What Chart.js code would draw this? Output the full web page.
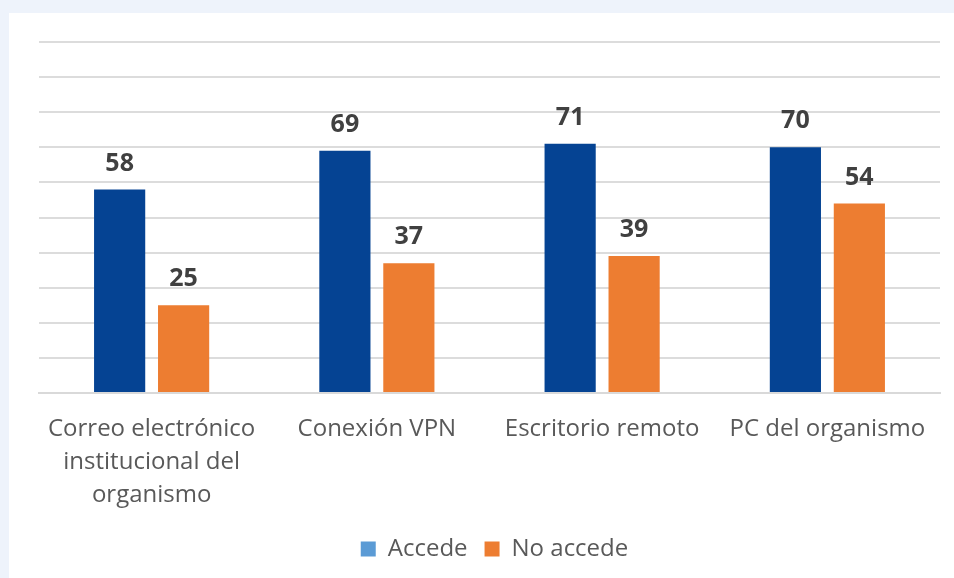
<!DOCTYPE html>
<html>
<head>
<meta charset="utf-8">
<script src="https://cdn.jsdelivr.net/npm/chart.js@4/dist/chart.umd.min.js"></script>
<style>
  html, body { margin: 0; padding: 0; width: 954px; height: 578px; overflow: hidden; background: #eef3fb; }
  #panel { position: absolute; left: 9px; top: 13px; width: 945px; height: 565px; background: #ffffff; }
  #wrap { position: absolute; left: 0; top: 0; width: 954px; height: 578px; }
</style>
</head>
<body>
<div id="panel"></div>
<div id="wrap"><canvas id="c" width="954" height="578"></canvas></div>
<script>
const categories = [["Correo electrónico", "institucional del", "organismo"], "Conexión VPN", "Escritorio remoto", "PC del organismo"];
const seriesNames = ["Accede", "No accede"];
const accede = [58, 69, 71, 70];
const noAccede = [25, 37, 39, 54];
const yMin = 0, yMax = 100, yStep = 10;

const valueLabels = {
  id: 'valueLabels',
  afterDatasetsDraw(chart) {
    const ctx = chart.ctx;
    ctx.save();
    ctx.font = 'bold 25px "Open Sans"';
    ctx.fillStyle = '#404040';
    ctx.textAlign = 'center';
    ctx.textBaseline = 'middle';
    chart.data.datasets.forEach((ds, di) => {
      chart.getDatasetMeta(di).data.forEach((bar, i) => {
        ctx.fillText(String(ds.data[i]), bar.x, bar.y - 26);
      });
    });
    ctx.restore();
  }
};

new Chart(document.getElementById('c'), {
  type: 'bar',
  data: {
    labels: categories,
    datasets: [
      { label: seriesNames[0], data: accede, backgroundColor: '#054393', borderWidth: 0 },
      { label: seriesNames[1], data: noAccede, backgroundColor: '#ed7d31', borderWidth: 0 }
    ]
  },
  options: {
    responsive: false,
    animation: false,
    events: [],
    layout: { padding: { left: 39, right: 4, top: 42, bottom: 7 } },
    datasets: { bar: { categoryPercentage: 0.568, barPercentage: 0.8 } },
    scales: {
      x: {
        grid: { display: false, drawTicks: false },
        border: { display: true, color: '#d9d9d9', width: 2 },
        ticks: {
          color: '#595959',
          font: { family: 'Open Sans', size: 24, lineHeight: 1.375 },
          padding: 20, maxRotation: 0, autoSkip: false
        },
        afterFit(s) { s.height = 127; }
      },
      y: {
        position: 'right',
        min: yMin, max: yMax,
        ticks: { display: false, stepSize: yStep },
        grid: { color: '#dcdcdc', lineWidth: 2, drawTicks: false },
        border: { display: false },
        afterFit(s) { s.width = 10; }
      }
    },
    plugins: {
      tooltip: { enabled: false },
      legend: {
        position: 'bottom',
        labels: {
          color: '#595959',
          font: { family: 'Open Sans', size: 24 },
          boxWidth: 15, boxHeight: 15, padding: 17,
          generateLabels(chart) {
            const items = Chart.defaults.plugins.legend.labels.generateLabels(chart);
            const swatch = ['#5b9bd5', '#ed7d31'];
            items.forEach((it, i) => { it.fillStyle = swatch[i]; it.strokeStyle = swatch[i]; it.lineWidth = 0; });
            return items;
          }
        }
      }
    }
  },
  plugins: [valueLabels]
});
</script>
</body>
</html>
